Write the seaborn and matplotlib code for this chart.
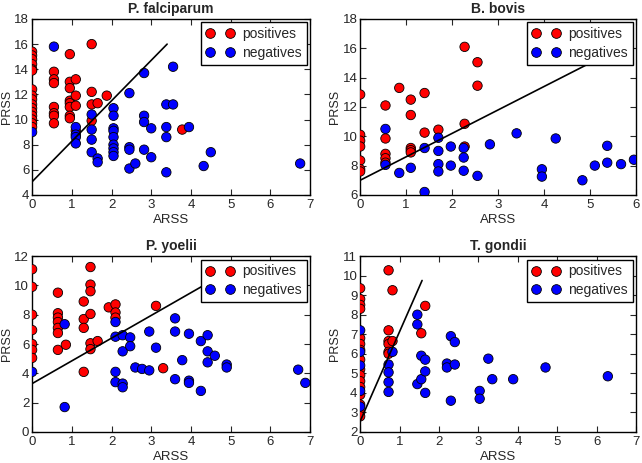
import numpy as np
import pandas as pd
import seaborn as sns
import matplotlib.pyplot as plt
from matplotlib.lines import Line2D

# ----------------------------
# DATA
# ----------------------------
titles = ["P. falciparum", "B. bovis", "P. yoelii", "T. gondii"]

# P. falciparum
pf_pos_x = [0] * 16 + [0.55] * 7 + [0.95] * 8 + [1.1] * 4 + [1.5] * 4 + [1.65, 1.88, 3.78]
pf_pos_y = [15.4, 15.1, 14.8, 14.4, 14.0, 13.9, 12.4, 11.9, 11.6, 11.2, 10.9, 10.6, 10.3, 10.0, 9.7, 9.4,
            13.8, 13.2, 12.9, 11.0, 10.5, 10.3, 9.7,
            15.2, 13.0, 12.5, 11.5, 11.3, 11.0, 10.3, 10.1,
            13.2, 11.9, 11.1, 9.1,
            16.0, 12.2, 11.2, 9.9,
            11.3, 11.9, 9.2]
pf_neg_x = [0, 0.55, 1.1, 1.1, 1.1, 1.1, 1.5, 1.5, 1.5, 1.5, 1.65, 1.65,
            2.05, 2.05, 2.05, 2.05, 2.05, 2.05, 2.05, 2.05, 2.05,
            2.45, 2.45, 2.45, 2.45, 2.6, 2.82, 2.82, 2.82, 2.82, 3.0, 3.0,
            3.38, 3.38, 3.38, 3.38, 3.55, 3.55, 3.95, 4.32, 4.5, 6.75]
pf_neg_y = [9.0, 15.8, 9.4, 8.8, 8.6, 8.1, 10.4, 9.2, 8.4, 7.4, 6.9, 6.6,
            10.9, 10.3, 9.3, 9.1, 8.6, 8.0, 7.7, 7.4, 7.1,
            12.1, 7.8, 7.6, 6.1, 6.5, 13.7, 10.3, 9.8, 7.6, 9.3, 7.0,
            11.2, 9.4, 8.6, 5.8, 14.2, 11.2, 9.4, 6.3, 7.4, 6.5]
pf_line_x = [0, 3.4]
pf_line_y = [5.05, 16.0]

# B. bovis
bb_pos_x = [0] * 7 + [0.55] * 5 + [0.85] + [1.1] * 5 + [1.4, 1.4, 1.7, 2.27, 2.27, 2.27, 2.55, 2.55]
bb_pos_y = [12.85, 10.1, 9.7, 9.3, 8.35, 7.75, 7.6,
            12.1, 9.85, 8.8, 8.5, 8.2,
            13.3,
            12.5, 11.45, 9.2, 9.05, 8.9,
            12.95, 10.25, 10.45, 16.1, 10.85, 9.3, 15.05, 13.45]
bb_neg_x = [0.55, 0.55, 0.85, 1.1, 1.4, 1.4, 1.7, 1.7, 1.7, 1.7, 1.97, 1.97,
            2.25, 2.25, 2.25, 2.55, 2.82, 3.4, 3.95, 3.95, 4.25, 4.83, 5.1, 5.37, 5.37, 5.67, 5.95]
bb_neg_y = [10.5, 8.05, 7.5, 7.85, 9.2, 6.2, 9.9, 9.0, 8.1, 7.6, 9.3, 8.0,
            9.2, 8.55, 7.65, 7.3, 9.45, 10.2, 7.75, 7.25, 9.85, 7.0, 8.0, 9.35, 8.2, 8.1, 8.4]
bb_line_x = [0, 5.5]
bb_line_y = [7.0, 15.8]

# P. yoelii
py_pos_x = [0] * 7 + [0.65] * 7 + [0.85] + [1.3] * 4 + [1.47] * 6 + [1.65, 1.93, 2.1, 2.1, 2.1, 3.12, 3.3]
py_pos_y = [11.1, 9.9, 8.0, 6.95, 6.0, 5.6, 5.05,
            9.5, 8.1, 7.8, 7.5, 7.1, 6.75, 5.6,
            5.95,
            8.9, 7.7, 7.1, 4.1,
            11.25, 10.05, 9.6, 8.05, 6.05, 5.65,
            6.2, 8.5, 8.7, 8.15, 7.8, 8.6, 4.35]
py_neg_x = [0, 0.82, 0.82, 2.1, 2.1, 2.1, 2.1, 2.28, 2.28, 2.28, 2.28, 2.47, 2.47, 2.6, 2.77,
            2.95, 2.95, 3.12, 3.6, 3.6, 3.6, 3.78, 3.95, 3.95, 3.95, 4.25, 4.25,
            4.42, 4.42, 4.42, 4.6, 4.9, 4.9, 6.7, 6.88]
py_neg_y = [4.1, 7.35, 1.7, 7.5, 6.5, 4.1, 3.4, 6.6, 5.5, 3.3, 3.05, 6.45, 5.85, 4.4, 4.3,
            6.85, 4.2, 5.75, 7.75, 6.85, 3.6, 4.9, 6.7, 3.5, 3.35, 6.2, 2.8,
            6.6, 5.5, 4.75, 5.2, 4.6, 4.4, 4.25, 3.35]
py_line_x = [0, 5.0]
py_line_y = [3.3, 11.05]

# T. gondii
tg_pos_x = [0] * 16 + [0.72] * 6 + [0.82, 0.82, 1.55, 1.65]
tg_pos_y = [9.35, 8.8, 8.5, 8.3, 6.8, 6.5, 6.2, 5.7, 5.2, 4.9, 4.6, 4.3, 3.9, 3.4, 3.0, 2.8,
            10.27, 7.2, 6.65, 6.5, 6.1, 6.0,
            9.25, 6.65, 7.05, 8.45]
tg_neg_x = [0] * 5 + [0.72] * 4 + [0.82, 1.45, 1.45, 1.45, 1.55, 1.55, 1.65, 1.65, 1.65,
                                   2.2, 2.2, 2.3, 2.3, 2.4, 2.4, 3.03, 3.03, 3.25, 3.35, 3.88, 4.7, 6.28]
tg_neg_y = [7.2, 6.1, 5.4, 4.1, 3.3,
            5.45, 5.05, 4.55, 4.05,
            6.1, 8.0, 7.5, 4.45, 5.9, 4.7, 5.7, 5.1, 4.0,
            5.5, 5.3, 6.9, 3.6, 6.6, 5.45, 4.1, 3.7, 5.75, 4.7, 4.7, 5.3, 4.85]
tg_line_x = [0, 1.57]
tg_line_y = [2.55, 9.75]

panels = [
    (pf_pos_x, pf_pos_y, pf_neg_x, pf_neg_y, pf_line_x, pf_line_y, (0, 7), (4, 18), np.arange(4, 19, 2)),
    (bb_pos_x, bb_pos_y, bb_neg_x, bb_neg_y, bb_line_x, bb_line_y, (0, 6), (6, 18), np.arange(6, 19, 2)),
    (py_pos_x, py_pos_y, py_neg_x, py_neg_y, py_line_x, py_line_y, (0, 7), (0, 12), np.arange(0, 13, 2)),
    (tg_pos_x, tg_pos_y, tg_neg_x, tg_neg_y, tg_line_x, tg_line_y, (0, 7), (2, 11), np.arange(2, 12, 1)),
]

# ----------------------------
# STYLE
# ----------------------------
sns.set_style("ticks")
plt.rcParams['font.family'] = ['Liberation Sans', 'DejaVu Sans']
plt.rcParams['xtick.direction'] = 'in'
plt.rcParams['ytick.direction'] = 'in'

fig = plt.figure(figsize=(6.42, 4.63), dpi=100)
boxes = [
    [0.050, 0.579, 0.433, 0.380],
    [0.561, 0.579, 0.430, 0.380],
    [0.050, 0.067, 0.433, 0.380],
    [0.561, 0.067, 0.430, 0.380],
]

for i, (px, py, nx, ny, lx, ly, xlim, ylim, yticks) in enumerate(panels):
    ax = fig.add_axes(boxes[i])
    df = pd.DataFrame({
        "ARSS": list(px) + list(nx),
        "PRSS": list(py) + list(ny),
        "cls": ["positives"] * len(px) + ["negatives"] * len(nx),
    })
    sns.scatterplot(data=df, x="ARSS", y="PRSS", hue="cls",
                    palette={"positives": "#ff0000", "negatives": "#0000ff"},
                    s=46, edgecolor="black", linewidth=0.6, legend=False,
                    ax=ax, zorder=3)
    ax.plot(lx, ly, color="black", lw=1.2, zorder=4)

    ax.set_xlim(*xlim)
    ax.set_ylim(*ylim)
    ax.set_yticks(yticks)
    ax.set_xticks(np.arange(xlim[0], xlim[1] + 1, 1))
    ax.tick_params(labelsize=9.5, length=4, width=0.8, top=True, right=True)
    ax.tick_params(axis="y", pad=2)
    ax.tick_params(axis="x", pad=3)
    for sp in ax.spines.values():
        sp.set_linewidth(1.0)
        sp.set_color("black")
    ax.set_xlabel("ARSS", fontsize=9.5, labelpad=2)
    ax.set_ylabel("PRSS", fontsize=9, labelpad=1)
    ax.set_title(titles[i], fontsize=10, fontweight="bold", pad=4)

    handles = [
        Line2D([], [], marker="o", ls="none", markersize=7, markerfacecolor="#ff0000",
               markeredgecolor="black", markeredgewidth=0.6, label="positives"),
        Line2D([], [], marker="o", ls="none", markersize=7, markerfacecolor="#0000ff",
               markeredgecolor="black", markeredgewidth=0.6, label="negatives"),
    ]
    leg = ax.legend(handles=handles, loc="upper right", numpoints=2, fontsize=10,
                    fancybox=False, framealpha=1, edgecolor="black",
                    borderaxespad=0.25, handletextpad=0.6, handlelength=2.0,
                    labelspacing=0.35, borderpad=0.35)
    leg.get_frame().set_linewidth(1.0)
    leg.set_zorder(10)

plt.savefig("out.png", dpi=100)
